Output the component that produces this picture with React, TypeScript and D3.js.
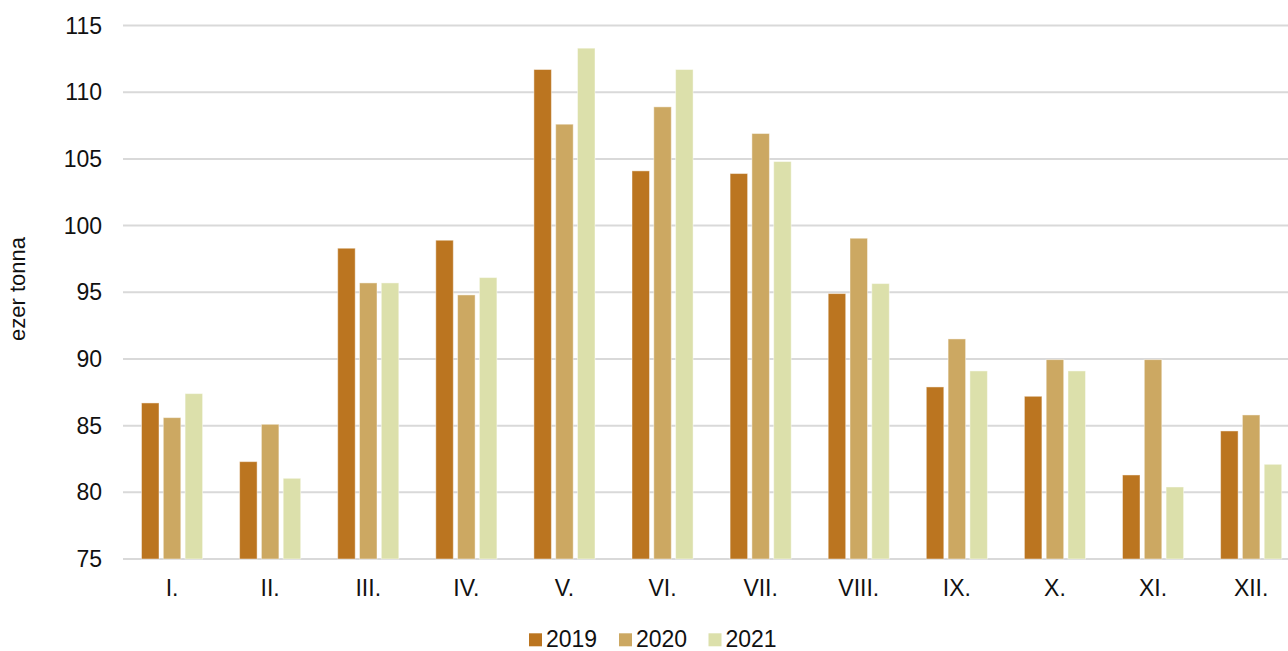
import React from "react";
import * as d3 from "d3";

const months = ["I.", "II.", "III.", "IV.", "V.", "VI.", "VII.", "VIII.", "IX.", "X.", "XI.", "XII."];
const years = ["2019", "2020", "2021"];
const values2019 = [86.7, 82.3, 98.3, 98.9, 111.7, 104.1, 103.9, 94.9, 87.9, 87.2, 81.3, 84.6];
const values2020 = [85.6, 85.1, 95.7, 94.8, 107.6, 108.9, 106.9, 99.05, 91.5, 89.95, 89.95, 85.8];
const values2021 = [87.4, 81.05, 95.7, 96.1, 113.3, 111.7, 104.8, 95.65, 89.1, 89.1, 80.4, 82.1];
const yTicks = [75, 80, 85, 90, 95, 100, 105, 110, 115];
const colors = ["#BB7520", "#CCA862", "#DCE0AB"];
const seriesValues = [values2019, values2020, values2021];

export default function App() {
  const W = 1288;
  const H = 651;
  const plotLeft = 123;
  const pitch = 98.1;
  const x = d3.scaleBand<string>().domain(months).range([plotLeft, plotLeft + pitch * months.length]).padding(0);
  const inner = d3.scaleBand<string>().domain(years).range([-32.7, 32.7]).padding(0);
  const y = d3.scaleLinear().domain([75, 115]).range([559, 25.5]);
  const barW = 17.5;
  const font = "'Liberation Sans', Arial, sans-serif";
  const fs = 23;

  const legendX = [529, 619, 708.5];

  return (
    <svg width={W} height={H} style={{ position: "absolute", left: 0, top: 0, background: "#fff" }} fontFamily={font}>
      {yTicks.map((t) => (
        <g key={t}>
          <line x1={plotLeft} x2={W} y1={y(t)} y2={y(t)} stroke="#d9d9d9" strokeWidth={2} />
          <text x={102} y={y(t)} dy="0.35em" textAnchor="end" fontSize={fs} fill="#111">
            {t}
          </text>
        </g>
      ))}
      {months.map((m, i) => (
        <g key={m}>
          {years.map((yr, j) => {
            const cx = (x(m) as number) + x.bandwidth() / 2 + (inner(yr) as number) + inner.bandwidth() / 2;
            const v = seriesValues[j][i];
            return (
              <rect
                key={yr}
                x={cx - barW / 2}
                y={y(v)}
                width={barW}
                height={y(75) - y(v)}
                fill={colors[j]}
                stroke="#fff"
                strokeOpacity={0.45}
                strokeWidth={1}
              />
            );
          })}
          <text x={(x(m) as number) + x.bandwidth() / 2} y={596} textAnchor="middle" fontSize={fs} fill="#111">
            {m}
          </text>
        </g>
      ))}
      <text
        transform={`translate(25,289) rotate(-90)`}
        textAnchor="middle"
        fontSize={22}
        fill="#111"
      >
        ezer tonna
      </text>
      {years.map((yr, j) => (
        <g key={yr}>
          <rect x={legendX[j]} y={633.3} width={13} height={13} fill={colors[j]} />
          <text x={legendX[j] + 17} y={646.5} fontSize={fs} fill="#111">
            {yr}
          </text>
        </g>
      ))}
    </svg>
  );
}
